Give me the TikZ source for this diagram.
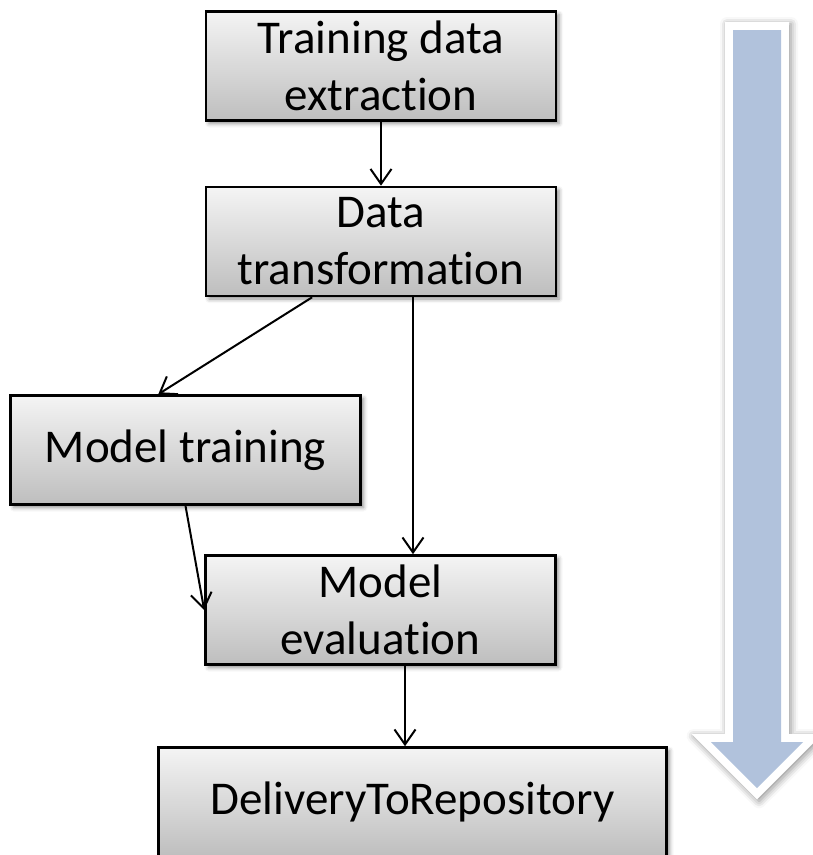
\documentclass[tikz,border=0pt]{standalone}
\usepackage{fontspec}
\setmainfont{Carlito}[Ligatures=NoCommon]
\usetikzlibrary{arrows.meta,shadows.blur,calc}

\definecolor{boxtop}{RGB}{244,244,244}
\definecolor{boxbot}{RGB}{190,190,190}
\definecolor{flowblue}{RGB}{177,194,220}

\tikzset{
  stepbox/.style={
    rectangle, draw=black, line width=2.6pt,
    top color=boxtop, bottom color=boxbot,
    minimum height=109pt, inner sep=0pt,
    align=center, font=\fontsize{47}{57}\selectfont,
    blur shadow={shadow xshift=3pt, shadow yshift=-3pt,
                 shadow blur radius=4pt, shadow opacity=45}
  },
  link/.style={
    draw=black, line width=2pt,
    -{Straight Barb[length=15pt, width=21pt, line width=2pt]}
  }
}

\begin{document}
\begin{tikzpicture}[x=1pt, y=-1pt]
  \path[use as bounding box] (0,0) rectangle (813,855);
  \clip (0,0) rectangle (813,855);

  % process direction arrow on the right
  \fill[white, blur shadow={shadow xshift=2pt, shadow yshift=-2pt,
        shadow blur radius=7pt, shadow opacity=45}]
    (725,22) -- (789,22) -- (789,734) -- (822.4,734) -- (757,799.3)
    -- (691.6,734) -- (725,734) -- cycle;
  \fill[flowblue]
    (733,30) -- (781,30) -- (781,742) -- (803,742) -- (757,788)
    -- (711,742) -- (733,742) -- cycle;

  % pipeline steps
  \node[stepbox, minimum width=350pt] (b1) at (381,66)
    {Training data\\extraction};
  \node[stepbox, minimum width=350pt] (b2) at (381,241.5)
    {Data\\transformation};
  \node[stepbox, minimum width=350pt] (b3) at (185.5,450)
    {Model training};
  \node[stepbox, minimum width=350pt] (b4) at (380.5,610)
    {Model\\evaluation};
  \node[stepbox, minimum width=508pt] (b5) at (412.5,802)
    {DeliveryToRepository};

  % connectors
  \coordinate (xeval) at (413,0);
  \coordinate (xdeliv) at (405,0);
  \draw[link] (b1) -- (b2);
  \draw[link] (b2.219) -- (b3.116);
  \draw[link] (b2.south -| xeval) -- (b4.north -| xeval);
  \draw[link] (b3.south) -- (b4.west);
  \draw[link] (b4.south -| xdeliv) -- (b5.north -| xdeliv);
\end{tikzpicture}
\end{document}
